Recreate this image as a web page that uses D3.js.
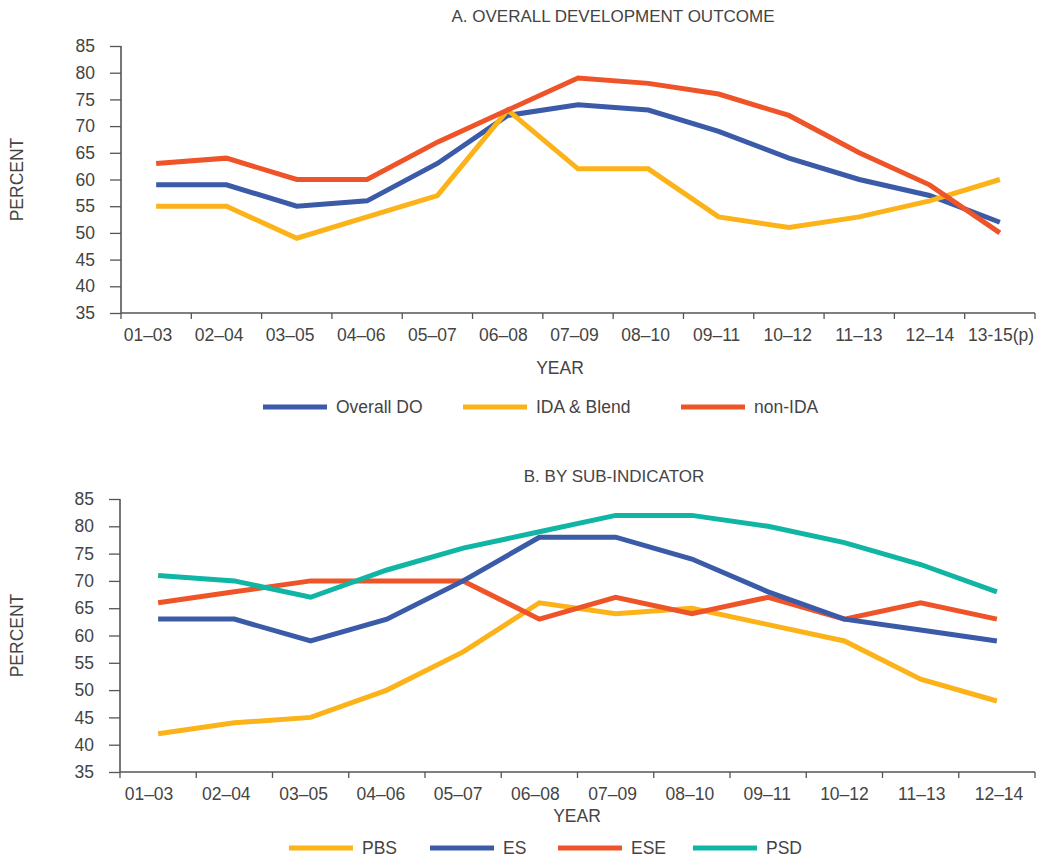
<!DOCTYPE html>
<html><head><meta charset="utf-8">
<script src="https://cdn.jsdelivr.net/npm/d3@7"></script>
<style>body{margin:0;background:#fff}svg{display:block;font-family:"Liberation Sans",Arial,sans-serif}</style>
</head><body><svg id="c" width="1040" height="860"></svg>
<script>
const yearsA = ["01–03","02–04","03–05","04–06","05–07","06–08","07–09","08–10","09–11","10–12","11–13","12–14","13-15(p)"];
const overallDO = [59,59,55,56,63,72,74,73,69,64,60,57,52];
const idaBlend  = [55,55,49,53,57,73,62,62,53,51,53,56,60];
const nonIDA    = [63,64,60,60,67,73,79,78,76,72,65,59,50];

const yearsB = ["01–03","02–04","03–05","04–06","05–07","06–08","07–09","08–10","09–11","10–12","11–13","12–14"];
const pbs = [42,44,45,50,57,66,64,65,62,59,52,48];
const es  = [63,63,59,63,70,78,78,74,68,63,61,59];
const ese = [66,68,70,70,70,63,67,64,67,63,66,63];
const psd = [71,70,67,72,76,79,82,82,80,77,73,68];

const yTicks = [35,40,45,50,55,60,65,70,75,80,85];
const C = {blue:"#3b5ba8", yellow:"#fcb319", red:"#ef5429", teal:"#10b5a4"};
const svg = d3.select("#c");
const textCol = "#444";
const FS = 17.5;

function panel(o){
  const g = svg.append("g");
  const x = d3.scaleBand().domain(o.cats).range([o.x0,o.x1]);
  const xl = d3.scalePoint().domain(o.cats).range(o.labelRange);
  const y = d3.scaleLinear().domain([35,85]).range([o.yb,o.yt]);
  g.append("text").attr("x",o.tx).attr("y",o.ty).attr("text-anchor","middle")
    .attr("font-size",17).attr("fill",textCol).text(o.title);
  const ya = g.append("g").attr("transform",`translate(${o.x0},0)`)
    .call(d3.axisLeft(y).tickValues(yTicks).tickSize(11).tickPadding(15));
  const xa = g.append("g").attr("transform",`translate(0,${o.yb})`)
    .call(d3.axisBottom(x).tickSize(6).tickPadding(10));
  xa.selectAll(".tick line").remove();
  xa.selectAll(".tick text").attr("x",d=>xl(d)-(x(d)+x.bandwidth()/2));
  const bounds = o.cats.map(c=>x(c)).concat([o.x1]);
  xa.selectAll("line.bt").data(bounds).enter().append("line").attr("class","bt")
    .attr("x1",d=>d).attr("x2",d=>d).attr("y1",0).attr("y2",6)
    .attr("stroke","#555").attr("stroke-width",1.3);
  [ya,xa].forEach(a=>{
    a.select(".domain").attr("stroke","#555").attr("stroke-width",1.6);
    a.selectAll(".tick line").attr("stroke","#555").attr("stroke-width",1.3);
    a.selectAll("text").attr("font-size",FS).attr("fill",textCol)
      .attr("font-family","'Liberation Sans',Arial,sans-serif");
  });
  ya.select(".domain").attr("d",`M0,${o.yb}V${o.yt}`);
  xa.select(".domain").attr("d",`M${o.x0},0H${o.x1}`);
  g.append("text").attr("transform",`translate(${o.ylx},${(o.yt+o.yb)/2}) rotate(-90)`)
    .attr("text-anchor","middle").attr("dy","0.35em").attr("font-size",FS).attr("fill",textCol).text("PERCENT");
  g.append("text").attr("x",o.xlx).attr("y",o.xly).attr("text-anchor","middle")
    .attr("font-size",FS).attr("fill",textCol).text("YEAR");
  const line = d3.line().x((d,i)=>x(o.cats[i])+x.bandwidth()/2).y(d=>y(d));
  o.series.forEach(s=>{
    g.append("path").datum(s.values).attr("d",line).attr("fill","none")
      .attr("stroke",s.color).attr("stroke-width",5).attr("stroke-linejoin","miter");
  });
  o.series.slice().sort((a,b)=>a.lx-b.lx).forEach(s=>{
    g.append("line").attr("x1",s.lx).attr("x2",s.lx+64).attr("y1",o.ly).attr("y2",o.ly)
      .attr("stroke",s.color).attr("stroke-width",5);
    g.append("text").attr("x",s.lx+73).attr("y",o.ly).attr("dy","0.35em")
      .attr("font-size",FS).attr("fill",textCol).text(s.name);
  });
}

panel({cats:yearsA,x0:121,x1:1035,yt:46,yb:313,labelRange:[148,1001],title:"A. OVERALL DEVELOPMENT OUTCOME",tx:613,ty:22,
  ylx:17,xlx:560,xly:374,ly:407,
  series:[
    {name:"Overall DO",values:overallDO,color:C.blue,lx:263},
    {name:"IDA & Blend",values:idaBlend,color:C.yellow,lx:463},
    {name:"non-IDA",values:nonIDA,color:C.red,lx:681}
  ]});

panel({cats:yearsB,x0:120,x1:1035,yt:499,yb:772,labelRange:[149,999],title:"B. BY SUB-INDICATOR",tx:614,ty:482,
  ylx:17,xlx:577,xly:822,ly:848,
  series:[
    {name:"PBS",values:pbs,color:C.yellow,lx:289},
    {name:"ESE",values:ese,color:C.red,lx:558},
    {name:"ES",values:es,color:C.blue,lx:430},
    {name:"PSD",values:psd,color:C.teal,lx:693}
  ]});
</script></body></html>
